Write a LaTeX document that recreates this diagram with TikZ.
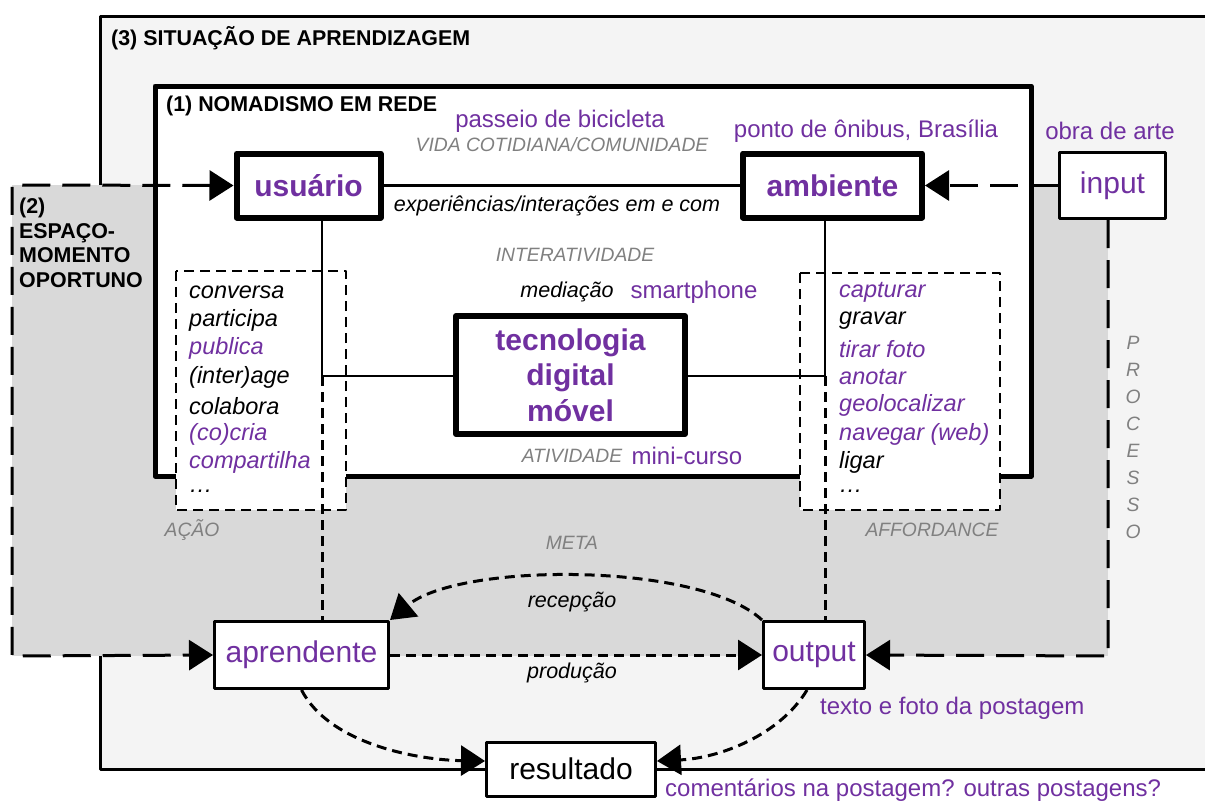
\documentclass[tikz,border=0pt]{standalone}
\usepackage{fontspec}
\setmainfont{Liberation Sans}
\usetikzlibrary{arrows.meta}
\definecolor{purp}{HTML}{7030A0}
\definecolor{graytext}{HTML}{808080}
\definecolor{graytwo}{HTML}{D9D9D9}
\definecolor{graythree}{HTML}{F4F4F4}
\begin{document}
\begin{tikzpicture}[x=1pt,y=-1pt,line join=round,>={Triangle[length=24pt,width=30pt]},
	heading/.style={font=\bfseries\fontsize{21.4}{24.5}\selectfont,align=left,inner sep=0pt},
	note/.style={text=purp,font=\fontsize{24}{27}\selectfont,inner sep=0pt},
	hint/.style={text=graytext,font=\itshape\fontsize{19.3}{22}\selectfont,inner sep=0pt},
	flow/.style={font=\itshape\fontsize{21.5}{24}\selectfont,inner sep=0pt},
	entry/.style={font=\itshape\fontsize{23.5}{26}\selectfont,anchor=west,inner sep=0pt},
	thickbox/.style={draw,fill=white,line width=6pt,text=purp,font=\bfseries\fontsize{30}{35.5}\selectfont,align=center,inner sep=0pt},
	box/.style={draw,fill=white,line width=3pt,font=\fontsize{30}{34}\selectfont,inner sep=0pt},
	listbox/.style={draw,fill=white,line width=2.5pt,dash pattern=on 10pt off 6pt},
	longdash/.style={line width=3pt,dash pattern=on 28pt off 12pt},
	shortdash/.style={line width=3pt,dash pattern=on 10pt off 6pt}]
	\useasboundingbox (0,0) rectangle (1205,801);
	\fill[graythree] (100,16) rectangle (1215,769);
	\draw[line width=3pt] (1215,16)--(100,16)--(100,769)--(1215,769);
	\fill[graytwo] (12,185) rectangle (1108,656);
	\draw[line width=5pt,fill=white] (155,86) rectangle (1031,476);
	\draw[listbox] (176,271) rectangle (346,510);
	\draw[listbox] (800,273) rectangle (1000,510);
	\node[heading,anchor=west] (sit) at (111,38) {(3) SITUAÇÃO DE APRENDIZAGEM};
	\node[heading,anchor=west] (nom) at (166,106) {(1) NOMADISMO EM REDE};
	\node[heading,anchor=north west] (esp) at (19,198) {(2)\\ESPAÇO-\\MOMENTO\\OPORTUNO};
	\node[thickbox,minimum width=144pt,minimum height=64pt] (usu) at (308.5,185.5) {usuário};
	\node[thickbox,minimum width=179pt,minimum height=64pt] (amb) at (832.5,185.5) {ambiente};
	\node[thickbox,minimum width=229pt,minimum height=118pt] (tec) at (570.5,375) {tecnologia\\digital\\móvel};
	\node[box,text=purp,minimum width=106pt,minimum height=66pt] (inp) at (1112.5,185.5) {input};
	\node[box,text=purp,minimum width=174pt,minimum height=67pt] (apr) at (301.5,655) {aprendente};
	\node[box,text=purp,minimum width=101pt,minimum height=67pt] (out) at (814,655) {output};
	\node[box,minimum width=169pt,minimum height=54pt] (res) at (571,769) {resultado};
	\coordinate (jl) at (322,376);
	\coordinate (jr) at (825,376);
	\coordinate (espTL) at (12,185);
	\coordinate (espBL) at (12,656);
	\coordinate (espBR) at (1108,656);
	\draw[line width=2.5pt] (usu.east)--(amb.west);
	\draw[line width=2.5pt] (usu.south-|jl)--(jl)--(tec.west|-jl);
	\draw[line width=2.5pt] (amb.south-|jr)--(jr)--(tec.east|-jr);
	\draw[shortdash] (jl)--(apr.north-|jl);
	\draw[shortdash] (jr)--(out.north-|jr);
	\draw[longdash,<->] (usu.west)--(espTL)--(espBL)--(apr.west);
	\draw[longdash,->] (inp.west)--(amb.east);
	\draw[longdash,->] (inp.south-|espBR)--(espBR)--(out.east);
	\draw[shortdash,->] (apr.east)--(out.west);
	\draw[shortdash,->] (out.north west) .. controls (700,562) and (460,562) .. (apr.north east);
	\draw[shortdash,->] (apr.south) .. controls (330,745) and (420,760) .. ([yshift=8pt]res.west);
	\draw[shortdash,->] ([xshift=-7pt]out.south) .. controls (780,735) and (720,758) .. ([yshift=8pt]res.east);
	\node[note] (bic) at (560,121) {passeio de bicicleta};
	\node[hint] (vida) at (562,145) {VIDA COTIDIANA/COMUNIDADE};
	\node[note] (bsb) at (866,131) {ponto de ônibus, Brasília};
	\node[note] (arte) at (1110,131) {obra de arte};
	\node[flow] (exp) at (557,206) {experiências/interações em e com};
	\node[hint] (inter) at (575,255) {INTERATIVIDADE};
	\node[flow] (med) at (567,292) {mediação};
	\node[note] (smart) at (694,292) {smartphone};
	\node[hint] (ativ) at (572,456) {ATIVIDADE};
	\node[note] (curso) at (687,456) {mini-curso};
	\foreach \w/\c [count=\i from 0] in {conversa/black,participa/black,publica/purp,(inter)age/black,colabora/black,(co)cria/purp,compartilha/purp,\ldots/black}
	\node[entry,text=\c] (acao\i) at (189,{292+28.4*\i}) {\w};
	\foreach \w/\c [count=\i from 0] in {capturar/purp,gravar/black,tirar foto/purp,anotar/purp,geolocalizar/purp,navegar (web)/purp,ligar/black,\ldots/black}
	\node[entry,text=\c] (aff\i) at (839,{292+28.4*\i}) {\w};
	\node[hint] (acao) at (192,530) {AÇÃO};
	\node[hint] (affo) at (932,530) {AFFORDANCE};
	\node[hint] (meta) at (572,543) {META};
	\foreach \l [count=\i from 0] in {P,R,O,C,E,S,S,O}
	\node[hint] (proc\i) at (1133,{343+27*\i}) {\l};
	\node[flow] (rec) at (572,602) {recepção};
	\node[flow] (prod) at (572,673) {produção};
	\node[note,anchor=west] (post) at (820,708) {texto e foto da postagem};
	\node[note,anchor=west] (com) at (665,790) {comentários na postagem? outras postagens?};
\end{tikzpicture}
\end{document}
